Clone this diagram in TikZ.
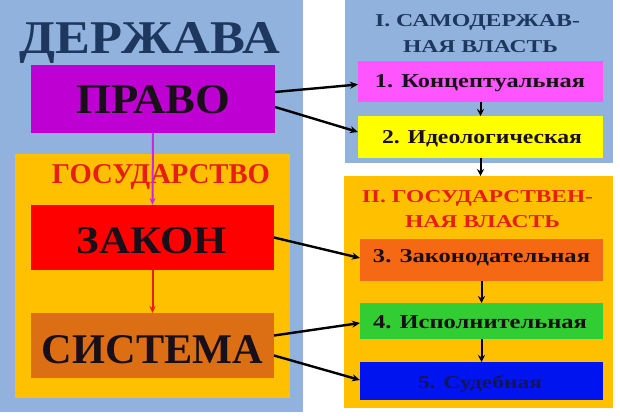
\documentclass[tikz,border=0pt]{standalone}
\usepackage{fontspec}
\setmainfont{Liberation Serif}
\usepackage{graphicx}
\usetikzlibrary{arrows.meta}
\definecolor{leftblue}{RGB}{146,178,222}
\definecolor{gold}{RGB}{255,192,0}
\definecolor{pravoc}{RGB}{190,0,210}
\definecolor{zakonc}{RGB}{255,0,0}
\definecolor{sistc}{RGB}{220,110,20}
\definecolor{pinkc}{RGB}{255,85,255}
\definecolor{yellc}{RGB}{255,255,0}
\definecolor{orc}{RGB}{245,105,20}
\definecolor{greenc}{RGB}{50,205,50}
\definecolor{bluec}{RGB}{0,20,240}
\definecolor{darkbluet}{RGB}{30,55,95}
\definecolor{redt}{RGB}{230,30,20}
\definecolor{boxt}{RGB}{25,15,25}
\definecolor{box5t}{RGB}{20,20,90}
\definecolor{arrowmag}{RGB}{200,40,230}
\newcommand{\fitt}[3]{\resizebox{#1pt}{#2pt}{\bfseries #3}}
\tikzset{
  panel/.style={rectangle, inner sep=0pt, outer sep=0pt, draw=none},
  lbl/.style={anchor=base, inner sep=0pt, outer sep=0pt},
  conn/.style={-{Stealth[length=8pt,width=7pt]}, line width=2.4pt, black},
  vconn/.style={-{Stealth[length=7pt,width=7pt]}, line width=2pt, black},
  cconn/.style={-{Stealth[length=7pt,width=6pt]}, line width=2pt},
}
\begin{document}
\begin{tikzpicture}[x=1pt,y=-1pt]
\useasboundingbox[fill=white] (0,0) rectangle (620,415);
% left side
\node[panel, fill=leftblue, minimum width=303pt, minimum height=412pt] (lpanel) at (151.5,206) {};
\node[panel, fill=gold, minimum width=275pt, minimum height=244pt] (gpanel) at (152.5,276) {};
\node[lbl, text=darkbluet] (derzh) at (150,53) {\fitt{260}{31}{ДЕРЖАВА}};
\node[panel, fill=pravoc, minimum width=244pt, minimum height=68pt] (pravo) at (153,99) {};
\node[lbl, text=boxt] (pravot) at (153.5,113) {\fitt{153}{28}{ПРАВО}};
\node[lbl, text=redt] (gosud) at (161,183) {\fitt{218}{19}{ГОСУДАРСТВО}};
\node[panel, fill=zakonc, minimum width=243pt, minimum height=65pt] (zakon) at (152.5,237.5) {};
\node[lbl, text=boxt] (zakont) at (152,253) {\fitt{150}{26}{ЗАКОН}};
\node[panel, fill=sistc, minimum width=243pt, minimum height=65pt] (sist) at (152.5,345.5) {};
\node[lbl, text=boxt] (sistt) at (152.5,363) {\fitt{221}{28}{СИСТЕМА}};
% right side
\node[panel, fill=leftblue, minimum width=268pt, minimum height=163pt] (rpanel) at (479,81.5) {};
\node[panel, fill=gold, minimum width=269pt, minimum height=232pt] (opanel) at (478.5,292) {};
\node[lbl, text=darkbluet] (t1a) at (477.5,27) {\fitt{205}{12}{I. САМОДЕРЖАВ-}};
\node[lbl, text=darkbluet] (t1b) at (480.5,52) {\fitt{155}{12}{НАЯ ВЛАСТЬ}};
\node[panel, fill=pinkc, minimum width=245pt, minimum height=41pt] (b1) at (480.5,81.5) {};
\node[lbl, text=boxt] (b1t) at (480,87) {\fitt{210}{13}{1. Концептуальная}};
\node[panel, fill=yellc, minimum width=245pt, minimum height=42pt] (b2) at (480.5,137) {};
\node[lbl, text=boxt] (b2t) at (482,143) {\fitt{200}{13}{2. Идеологическая}};
\node[lbl, text=redt] (t2a) at (477.5,202) {\fitt{231}{12}{II. ГОСУДАРСТВЕН-}};
\node[lbl, text=redt] (t2b) at (482.5,227) {\fitt{155}{12}{НАЯ ВЛАСТЬ}};
\node[panel, fill=orc, minimum width=243pt, minimum height=42pt] (b3) at (481.5,260) {};
\node[lbl, text=boxt] (b3t) at (481.5,262) {\fitt{217}{13}{3. Законодательная}};
\node[panel, fill=greenc, minimum width=243pt, minimum height=36pt] (b4) at (481.5,321) {};
\node[lbl, text=boxt] (b4t) at (480,328) {\fitt{214}{13}{4. Исполнительная}};
\node[panel, fill=bluec, minimum width=243pt, minimum height=38pt] (b5) at (481.5,381) {};
\node[lbl, text=box5t] (b5t) at (480,388) {\fitt{124}{13}{5. Судебная}};
% connectors
\draw[cconn, arrowmag] (pravo.south) -- (zakon.north);
\draw[cconn, redt] (zakon.south) -- (sist.north);
\draw[conn] ([yshift=7pt]pravo.east) -- ([yshift=-3pt]b1.west);
\draw[conn] ([yshift=-8pt]pravo.east) -- ([yshift=5pt]b2.west);
\draw[conn] (zakon.east) -- ([yshift=2pt]b3.west);
\draw[conn] ([yshift=10pt]sist.east) -- ([yshift=-2pt]b4.west);
\draw[conn] ([yshift=-10pt]sist.east) -- ([yshift=1pt]b5.west);
\draw[vconn] (b1.south) -- (b2.north);
\draw[vconn] (b2.south) -- (b2.south |- opanel.north);
\draw[vconn] (b3.south) -- (b4.north);
\draw[vconn] (b4.south) -- (b5.north);
\end{tikzpicture}
\end{document}
